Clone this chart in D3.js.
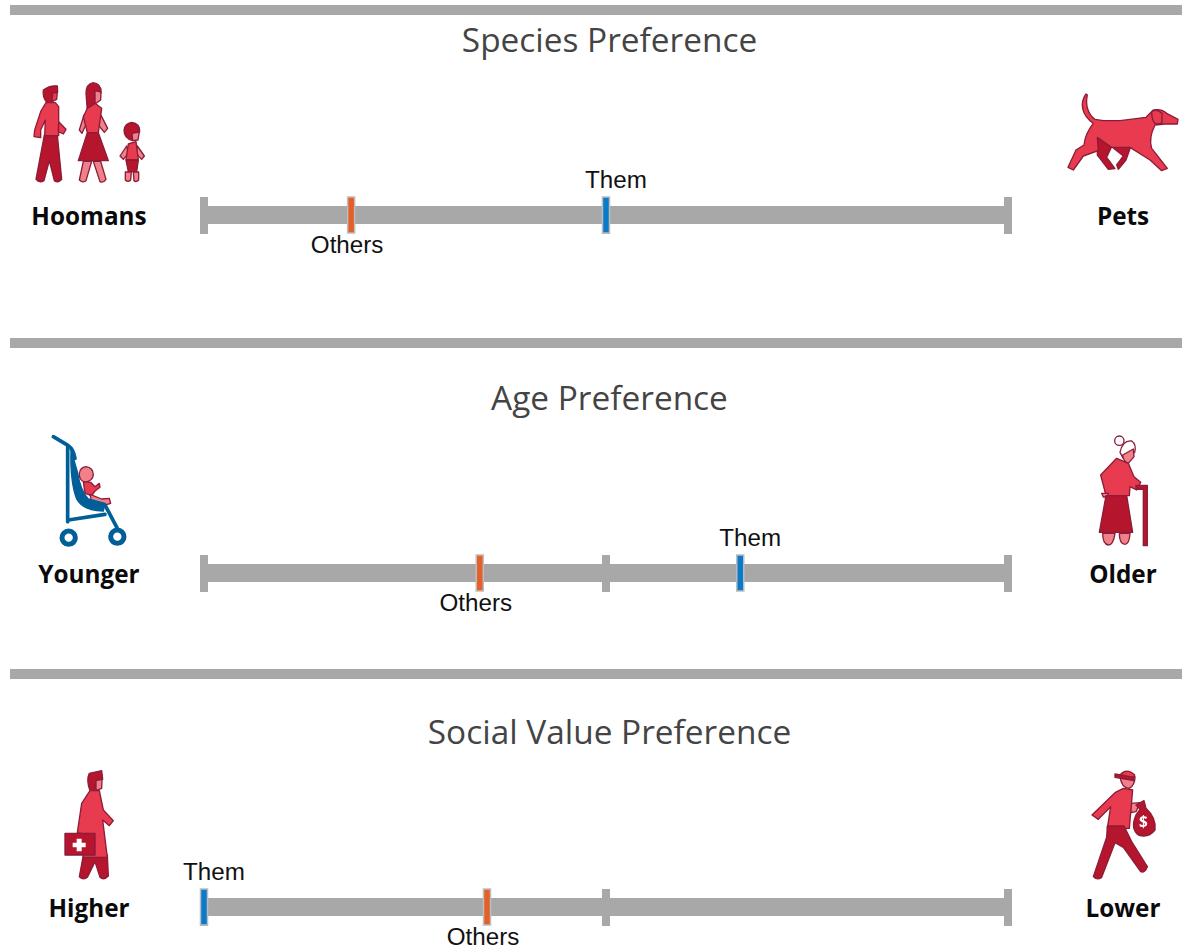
<!DOCTYPE html>
<html>
<head>
<meta charset="utf-8">
<script src="https://d3js.org/d3.v7.min.js"></script>
<style>
  html, body { margin: 0; padding: 0; background: #fff; }
  svg { display: block; }
</style>
</head>
<body>
<div id="chart"></div>
<script>
////////////////////////////////////////////////////////////////////////
// Data

let titles = ["Species Preference", "Age Preference", "Social Value Preference"];
let leftLabels = ["Hoomans", "Younger", "Higher"];
let rightLabels = ["Pets", "Older", "Lower"];
let othersValues = [0.183, 0.343, 0.352];
let themValues = [0.5, 0.667, 0];

////////////////////////////////////////////////////////////////////////
// Layout

let width = 1182, height = 946;
let dividerY = [10, 343, 674];
let titleY = [52, 410, 744];
let barY = [215, 573, 907];
let labelOffset = 10;  // label baseline below the bar centre
let leftX = 89, rightX = 1123, titleX = 609.5;

let xScale = d3.scaleLinear().domain([0, 1]).range([204, 1008]);

let grey = "#a8a8a8";
let light = "#e83b50", dark = "#b5122e", skin = "#f0808a", line = "#8c1d38", blue = "#005f98";

let svg = d3.select("#chart").append("svg")
  .attr("width", width)
  .attr("height", height);

// the reference is a soft screenshot, so take the hard edge off the pictograms
svg.append("defs").append("filter")
  .attr("id", "soft")
  .append("feGaussianBlur")
  .attr("stdDeviation", 1.5);

////////////////////////////////////////////////////////////////////////
// Pictograms. Paths are in 3x pixels of their own box, hence the 1/3 scale

let icons = [
  { // family
    x: 0, y: 70, shapes: [
      [dark, "M130 60 Q150 45 172 48 L173 66 L160 72 L158 97 L140 97 Q127 80 130 60 Z"],
      [light, "M158 70 L172 66 L170 88 L156 95 Z"],
      [dark, "M133 195 L172 195 L185 328 Q175 340 163 332 L148 272 L132 332 Q118 340 108 328 Z"],
      [light, "M138 98 L166 98 L176 110 L176 197 L134 197 L136 150 L122 180 L122 203 L102 200 L104 180 L122 125 Z"],
      [light, "M176 155 L198 178 L190 192 L175 185 Z"],
      [dark, "M280 38 Q305 42 303 68 L285 100 L262 122 L258 70 Q258 42 280 38 Z"],
      [skin, "M285 62 L303 66 L302 90 L285 102 Z"],
      [skin, "M252 135 L238 180 L246 190 L264 150 Z"],
      [skin, "M300 130 L323 175 L313 187 L295 165 Z"],
      [light, "M262 115 L285 100 L305 115 L295 188 L262 188 L250 140 Z"],
      [dark, "M262 188 L295 188 L325 272 L235 272 Z"],
      [skin, "M250 274 L275 274 L258 332 Q248 340 238 330 Z"],
      [skin, "M280 274 L302 274 L318 328 Q310 340 300 335 Z"],
      [dark, "M395 157 Q420 160 419 185 L398 212 Q372 205 372 180 Q375 160 395 157 Z"],
      [skin, "M396 190 L418 186 L414 210 L398 212 Z"],
      [skin, "M380 228 L360 258 L370 268 L385 250 Z"],
      [skin, "M412 228 L433 258 L425 268 L408 250 Z"],
      [light, "M385 222 L408 215 L415 270 L378 270 Z"],
      [dark, "M378 270 L415 270 L410 305 L385 305 Z"],
      [skin, "M376 306 L394 306 L392 330 Q384 338 376 330 Z"],
      [skin, "M400 306 L416 306 L416 330 Q408 338 402 332 Z"]
    ]
  },
  { // dog
    x: 1040, y: 80, shapes: [
      [dark, "M172 170 L172 225 L205 268 L225 266 L200 232 L215 200 Z"],
      [dark, "M215 200 L272 200 L258 240 L235 268 L230 255 L250 228 Z"],
      [light, "M138 42 C118 70 125 105 160 130 C148 145 135 165 132 195 L108 210 L84 262 L100 270 L130 228 L175 212 L172 172 L215 202 L270 202 L330 240 L365 272 L382 265 L335 205 Q325 175 345 135 L375 132 L412 132 L414 118 L380 100 Q365 85 340 90 L318 112 L240 122 L190 122 L165 118 C145 105 135 75 142 45 Z"],
      [light, "M335 95 Q350 85 366 100 L366 128 Q355 135 345 130 Q335 120 335 95 Z"]
    ]
  },
  { // baby in stroller
    x: 20, y: 425, shapes: [
      [skin, "M198 125 Q220 128 220 150 Q218 168 195 172 Q176 165 178 145 Q180 128 198 125 Z"],
      [light, "M190 170 L212 172 L225 185 L238 175 L240 187 L225 198 L215 212 L195 205 Z"],
      [skin, "M210 208 L245 222 L268 220 L272 235 L250 242 L215 232 Z"],
      [blue, "M153 75 L172 140 Q182 200 205 222 L255 235 L250 258 Q190 258 170 222 Q150 170 153 75 Z"]
    ],
    strokes: [
      "M100 35 L145 62 Q160 72 165 100",
      "M143 65 L143 290",
      "M145 285 L255 268",
      "M255 240 L292 310"
    ],
    wheels: [[146, 338], [292, 335]]
  },
  { // grandma
    x: 1060, y: 425, shapes: [
      ["#fff", "M164 47 A14 14 0 1 1 192 47 A14 14 0 1 1 164 47 Z"],
      ["#fff", "M180 82 Q188 45 215 48 Q230 58 224 82 L190 100 Z"],
      [skin, "M188 90 L220 72 L222 95 L205 115 Q190 110 188 90 Z"],
      [light, "M170 100 L205 115 L222 155 L242 172 L230 195 L210 185 L208 212 L138 212 L122 150 Z"],
      [skin, "M125 205 L145 205 L142 216 L130 216 Z"],
      [dark, "M138 212 L200 212 L218 322 L118 322 Z"],
      [skin, "M128 325 L165 325 Q160 360 145 360 Q128 358 128 325 Z"],
      [skin, "M178 325 L210 325 Q208 358 195 358 Q178 358 178 325 Z"],
      [dark, "M228 181 L262 181 L262 362 L250 362 L250 193 L228 193 Z"]
    ]
  },
  { // doctor
    x: 30, y: 760, shapes: [
      [dark, "M160 285 L232 285 L235 348 Q222 362 210 352 L195 305 L172 352 Q160 362 148 350 Z"],
      [dark, "M178 40 L215 32 L218 58 L198 62 L195 92 L180 92 Q168 60 178 40 Z"],
      [skin, "M198 62 L216 58 L215 85 L198 92 Z"],
      [light, "M180 92 L208 92 L220 150 L250 182 L238 197 L218 180 L232 292 L160 292 L160 222 L142 218 L155 130 Z"],
      [dark, "M105 220 L195 220 L195 285 L105 285 Z"]
    ],
    cross: "M140 236 L155 236 L155 248 L167 248 L167 262 L155 262 L155 274 L140 274 L140 262 L128 262 L128 248 L140 248 Z"
  },
  { // robber
    x: 1060, y: 760, shapes: [
      [skin, "M212 130 L240 128 L228 155 L212 158 Z"],
      [dark, "M228 135 L252 122 L258 145 Q290 175 285 210 Q265 235 235 225 Q210 205 228 165 L240 148 Z"],
      [skin, "M180 50 Q200 25 225 50 Q225 75 208 85 Q185 85 180 50 Z"],
      [light, "M180 45 Q200 22 224 45 L222 52 L182 50 Z"],
      [dark, "M165 42 L222 52 L222 62 L165 52 Z"],
      [light, "M165 98 L190 85 L218 90 L208 205 L142 205 L152 140 L115 178 L96 165 Z"],
      [dark, "M142 198 L192 198 L215 245 L262 320 Q255 340 242 335 L190 262 L165 248 L125 352 Q110 362 100 350 L140 232 Z"]
    ],
    text: { x: 250, y: 200, s: "$" }
  }
];

let iconG = svg.append("g").selectAll("g")
  .data(icons)
  .enter()
  .append("g")
  .attr("filter", "url(#soft)")
  .attr("transform", d => "translate(" + d.x + "," + d.y + ") scale(" + 1 / 3 + ")");

iconG.selectAll(".shape")
  .data(d => d.shapes)
  .enter()
  .append("path")
  .attr("class", "shape")
  .attr("d", d => d[1])
  .attr("fill", d => d[0])
  .attr("stroke", d => d[0] === blue ? blue : line)
  .attr("stroke-width", 4)
  .attr("stroke-linejoin", "round");

iconG.selectAll(".frame")
  .data(d => d.strokes || [])
  .enter()
  .append("path")
  .attr("class", "frame")
  .attr("d", d => d)
  .attr("fill", "none")
  .attr("stroke", blue)
  .attr("stroke-width", 11)
  .attr("stroke-linecap", "round");

iconG.selectAll(".wheel")
  .data(d => d.wheels || [])
  .enter()
  .append("circle")
  .attr("class", "wheel")
  .attr("cx", d => d[0])
  .attr("cy", d => d[1])
  .attr("r", 20)
  .attr("fill", "#fff")
  .attr("stroke", blue)
  .attr("stroke-width", 15);

iconG.filter(d => d.cross).append("path")
  .attr("d", d => d.cross)
  .attr("fill", "#fff");

iconG.filter(d => d.text).append("text")
  .attr("x", d => d.text.x)
  .attr("y", d => d.text.y)
  .attr("text-anchor", "middle")
  .attr("font-family", "'Open Sans', sans-serif")
  .attr("font-weight", 700)
  .attr("font-size", 46)
  .attr("fill", "#fff")
  .text(d => d.text.s);

////////////////////////////////////////////////////////////////////////
// Panels

titles.forEach(function (title, i) {
  let cy = barY[i];
  let g = svg.append("g");

  g.append("rect")
    .attr("x", 10)
    .attr("y", dividerY[i] - 5)
    .attr("width", width - 10)
    .attr("height", 10)
    .attr("fill", grey);

  g.append("text")
    .attr("x", titleX)
    .attr("y", titleY[i])
    .attr("text-anchor", "middle")
    .attr("font-family", "'Open Sans', sans-serif")
    .attr("font-size", 33.4)
    .attr("fill", "#444")
    .text(title);

  // main bar and the three ticks
  g.append("rect")
    .attr("x", xScale(0))
    .attr("y", cy - 9)
    .attr("width", xScale(1) - xScale(0))
    .attr("height", 18)
    .attr("fill", grey);

  g.selectAll(".tick")
    .data([0, 0.5, 1])
    .enter()
    .append("rect")
    .attr("class", "tick")
    .attr("x", d => xScale(d) - 4)
    .attr("y", cy - 18)
    .attr("width", 8)
    .attr("height", 37)
    .attr("fill", grey);

  // Others and Them markers
  g.selectAll(".marker")
    .data([
      { v: othersValues[i], c: "#e4602a" },
      { v: themValues[i], c: "#0a7acb" }
    ])
    .enter()
    .append("rect")
    .attr("class", "marker")
    .attr("x", d => xScale(d.v) - 3.5)
    .attr("y", cy - 18)
    .attr("width", 7)
    .attr("height", 36)
    .attr("fill", d => d.c)
    .attr("stroke", "#bdbdbd")
    .attr("stroke-width", 1.5);

  g.append("text")
    .attr("x", xScale(themValues[i]) + 10)
    .attr("y", cy - 27)
    .attr("text-anchor", "middle")
    .attr("font-family", "'Liberation Sans', Arial, sans-serif")
    .attr("font-size", 24.2)
    .attr("fill", "#111")
    .text("Them");

  g.append("text")
    .attr("x", xScale(othersValues[i]) - 4)
    .attr("y", cy + 38)
    .attr("text-anchor", "middle")
    .attr("font-family", "'Liberation Sans', Arial, sans-serif")
    .attr("font-size", 24.2)
    .attr("fill", "#111")
    .text("Others");

  [[leftX, leftLabels[i]], [rightX, rightLabels[i]]].forEach(function (l) {
    g.append("text")
      .attr("x", l[0])
      .attr("y", cy + labelOffset)
      .attr("text-anchor", "middle")
      .attr("font-family", "'Open Sans', sans-serif")
      .attr("font-weight", 700)
      .attr("font-size", 24.3)
      .attr("fill", "#0a0a0a")
      .text(l[1]);
  });
});
</script>
</body>
</html>
